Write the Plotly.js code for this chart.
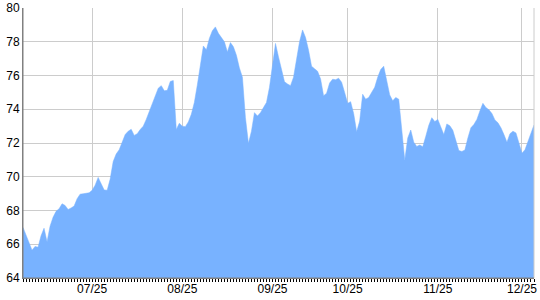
<!DOCTYPE html>
<html>
<head>
<meta charset="utf-8">
<script src="https://cdn.plot.ly/plotly-3.0.1.min.js"></script>
<style>
html,body{margin:0;padding:0;background:#fff;}
#chart{width:540px;height:300px;}
</style>
</head>
<body>
<div id="chart"></div>
<script>
// Series values, one per point
const values = [
 67.0, 66.55, 66.05, 65.65, 65.87, 65.82, 66.5, 66.95, 66.15, 67.07,
 67.6, 67.95, 68.1, 68.4, 68.3, 68.06, 68.15, 68.26, 68.7, 68.97,
 68.99, 69.01, 69.05, 69.2, 69.5, 69.96, 69.6, 69.22, 69.2, 69.86,
 70.9, 71.35, 71.6, 72.1, 72.5, 72.7, 72.81, 72.45, 72.55, 72.8,
 73.0, 73.4, 73.85, 74.35, 74.85, 75.25, 75.4, 75.1, 75.12, 75.65,
 75.7, 72.8, 73.17, 73.0, 72.97, 73.25, 73.7, 74.4, 75.44, 76.7,
 77.75, 77.52, 78.2, 78.65, 78.88, 78.5, 78.28, 78.0, 77.4, 77.95,
 77.7, 77.2, 76.45, 75.9, 73.5, 71.98, 72.7, 73.8, 73.6, 73.8,
 74.1, 74.4, 75.3, 76.7, 77.9, 77.1, 76.35, 75.63, 75.5, 75.4,
 75.9, 77.0, 78.0, 78.7, 78.25, 77.5, 76.55, 76.4, 76.25, 75.8,
 74.8, 74.95, 75.55, 75.78, 75.75, 75.84, 75.6, 75.0, 74.35, 74.45,
 73.75, 72.67, 73.3, 74.89, 74.6, 74.7, 75.0, 75.3, 75.9, 76.35,
 76.55, 75.7, 74.85, 74.5, 74.7, 74.6, 72.6, 71.0, 72.3, 72.77,
 72.05, 71.8, 71.88, 71.78, 72.4, 73.05, 73.5, 73.27, 73.4, 73.0,
 72.5, 73.13, 73.02, 72.75, 72.1, 71.55, 71.5, 71.58, 72.3, 72.9,
 73.1, 73.4, 73.9, 74.35, 74.1, 73.97, 73.75, 73.37, 73.2, 72.9,
 72.5, 72.05, 72.55, 72.7, 72.6, 72.0, 71.4, 71.6, 72.1, 72.6,
 73.07
];
// Index of the first point of each labelled month, and its label
const monthStart = [23, 53, 83, 108, 138, 166];
const monthLabels = ["07/25", "08/25", "09/25", "10/25", "11/25", "12/25"];
// Y axis ticks
const yTicks = [64, 66, 68, 70, 72, 74, 76, 78, 80];

const xIdx = values.map((_, i) => i);

const trace = {
  x: xIdx,
  y: values,
  type: 'scatter',
  mode: 'lines',
  fill: 'tozeroy',
  fillcolor: '#78b2ff',
  line: {color: '#78b2ff', width: 0.5},
  hoverinfo: 'skip'
};

const layout = {
  width: 540,
  height: 300,
  margin: {l: 23, r: 6, t: 8, b: 22, pad: 0},
  paper_bgcolor: '#ffffff',
  plot_bgcolor: '#ffffff',
  showlegend: false,
  font: {family: 'Liberation Sans, Arial, sans-serif', size: 12, color: '#000'},
  xaxis: {
    range: [0, values.length - 1],
    tickmode: 'array',
    tickvals: monthStart,
    ticktext: monthLabels,
    showgrid: true,
    gridcolor: '#cccccc',
    gridwidth: 1,
    zeroline: false,
    showline: true,
    linecolor: '#808080',
    linewidth: 1,
    ticks: 'outside',
    ticklen: 3,
    tickcolor: '#000',
    tickwidth: 1,
    ticklabelstandoff: -3,
    minor: {dtick: 1, tick0: 0, ticks: 'outside', ticklen: 3, tickcolor: '#000', tickwidth: 1, showgrid: false},
    tickfont: {size: 12, color: '#000'},
    layer: 'below traces',
    fixedrange: true
  },
  yaxis: {
    range: [64, 80],
    tickmode: 'array',
    tickvals: yTicks,
    ticktext: yTicks.map(String),
    showgrid: true,
    gridcolor: '#cccccc',
    gridwidth: 1,
    zeroline: false,
    showline: true,
    linecolor: '#808080',
    linewidth: 1,
    ticks: '',
    tickfont: {size: 12, color: '#000'},
    layer: 'below traces',
    fixedrange: true
  },
  shapes: [
    {type: 'line', xref: 'paper', yref: 'paper', x0: 1, x1: 1, y0: 0, y1: 1,
     line: {color: '#cccccc', width: 1}, layer: 'above'},
    {type: 'line', xref: 'paper', yref: 'paper', x0: 0, x1: 1, y0: 0, y1: 0,
     line: {color: '#808080', width: 1}, layer: 'above'},
    {type: 'line', xref: 'paper', yref: 'paper', x0: 0, x1: 0, y0: 0, y1: 1,
     line: {color: '#808080', width: 1}, layer: 'above'}
  ]
};

Plotly.newPlot('chart', [trace], layout, {displayModeBar: false, staticPlot: true});
</script>
</body>
</html>
